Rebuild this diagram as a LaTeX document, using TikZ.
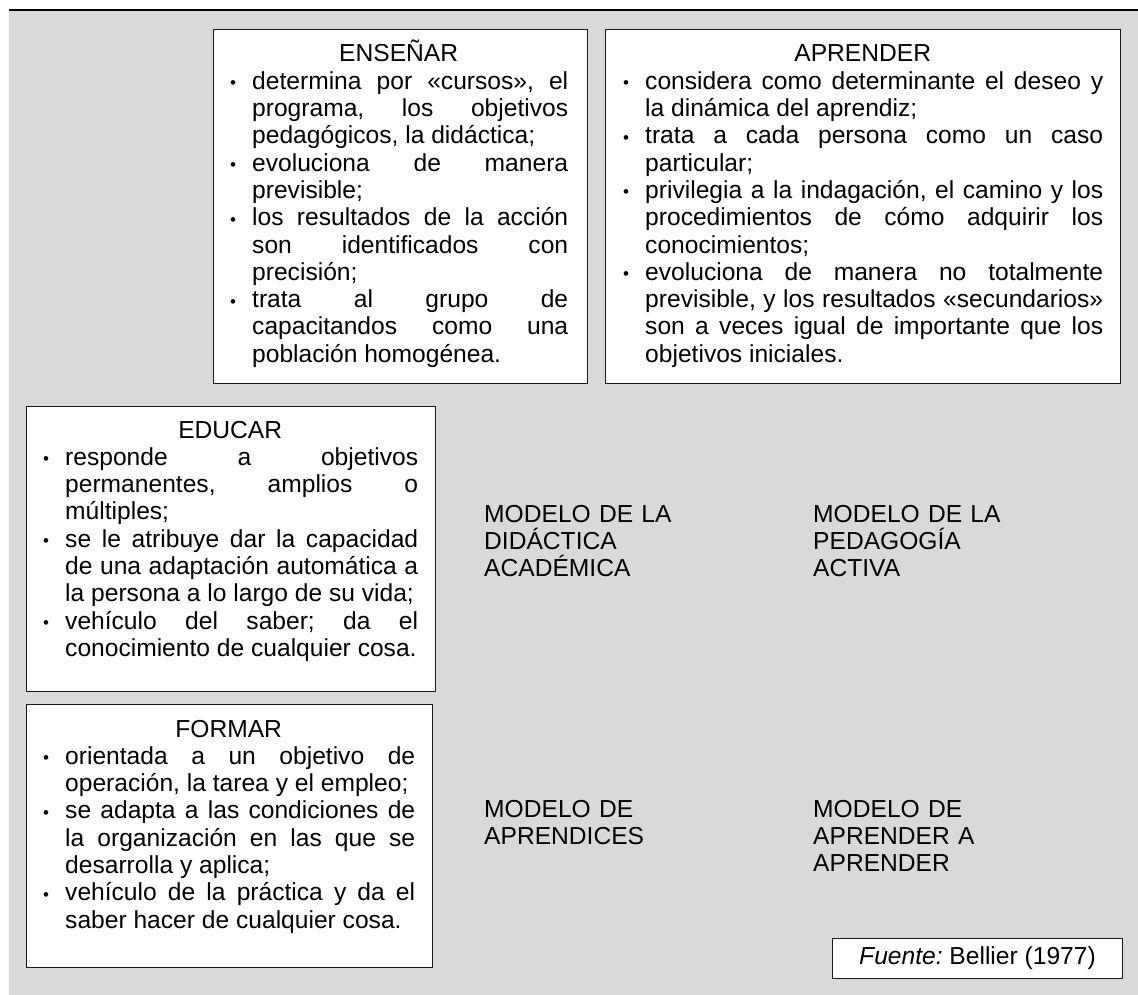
\documentclass[tikz,border=0pt]{standalone}
\usepackage{fontspec}
\setmainfont{Liberation Sans}
\definecolor{fondo}{HTML}{D9D9D9}
\hyphenpenalty=10000
\exhyphenpenalty=10000
\tolerance=10000
\frenchspacing
\newcommand{\punto}{\par\hangindent=23pt\hangafter=1\noindent\makebox[23pt][l]{\hspace{1pt}\raisebox{0.5pt}{\fontsize{17}{17}\selectfont •}}}

\begin{document}
\begin{tikzpicture}[x=1pt,y=-1pt,font=\fontsize{24.6}{27.3}\selectfont,
  caja/.style={draw=black!90,line width=1pt,fill=white,inner sep=0pt},
  texto/.style={inner sep=0pt,anchor=base west,align=justify},
  modelo/.style={inner sep=0pt,anchor=base west,align=left,text width=300pt}]
\useasboundingbox (0,0) rectangle (1138,995);
\fill[fondo] (9,11) rectangle (1138,995);
\draw[line width=2pt] (9,10) -- (1138,10);

\node (ens) [caja,minimum width=374pt,minimum height=354pt,anchor=north west] at (213,29) {};
\node (enst) [texto,text width=339pt] at ([shift={(16,33)}]ens.north west) {{\centering ENSEÑAR\par}
\punto determina por «cursos», el\linebreak programa, los objetivos\linebreak pedagógicos, la didáctica;
\punto evoluciona de manera\linebreak previsible;
\punto los resultados de la acción\linebreak son identificados con\linebreak precisión;
\punto trata al grupo de\linebreak capacitandos como una\linebreak población homogénea.\par};

\node (apr) [caja,minimum width=515pt,minimum height=354pt,anchor=north west] at (605,29) {};
\node (aprt) [texto,text width=481pt] at ([shift={(17,33)}]apr.north west) {{\centering APRENDER\par}
\punto considera como determinante el deseo y\linebreak la dinámica del aprendiz;
\punto trata a cada persona como un caso\linebreak particular;
\punto privilegia a la indagación, el camino y los\linebreak procedimientos de cómo adquirir los\linebreak conocimientos;
\punto evoluciona de manera no totalmente\linebreak previsible, y los resultados «secundarios»\linebreak son a veces igual de importante que los\linebreak objetivos iniciales.\par};

\node (edu) [caja,minimum width=409pt,minimum height=285pt,anchor=north west] at (26,406) {};
\node (edut) [texto,text width=376pt] at ([shift={(16,32)}]edu.north west) {{\centering EDUCAR\par}
\punto responde a objetivos\linebreak permanentes, amplios o\linebreak múltiples;
\punto se le atribuye dar la capacidad\linebreak de una adaptación automática a\linebreak la persona a lo largo de su vida;
\punto vehículo del saber; da el\linebreak conocimiento de cualquier cosa.\par};

\node (for) [caja,minimum width=406pt,minimum height=263pt,anchor=north west] at (26,704) {};
\node (fort) [texto,text width=373pt] at ([shift={(16,33)}]for.north west) {{\centering FORMAR\par}
\punto orientada a un objetivo de\linebreak operación, la tarea y el empleo;
\punto se adapta a las condiciones de\linebreak la organización en las que se\linebreak desarrolla y aplica;
\punto vehículo de la práctica y da el\linebreak saber hacer de cualquier cosa.\par};

\node (mda) [modelo] at (484,522) {MODELO DE LA\\DIDÁCTICA\\ACADÉMICA};
\node (mpa) [modelo] at (813,522) {MODELO DE LA\\PEDAGOGÍA\\ACTIVA};
\node (map) [modelo] at (484,817) {MODELO DE\\APRENDICES};
\node (maa) [modelo] at (813,817) {MODELO DE\\APRENDER A\\APRENDER};

\node (fte) [caja,minimum width=290pt,minimum height=40pt,anchor=north west] at (832,938) {\textit{Fuente:} Bellier (1977)};
\end{tikzpicture}
\end{document}
